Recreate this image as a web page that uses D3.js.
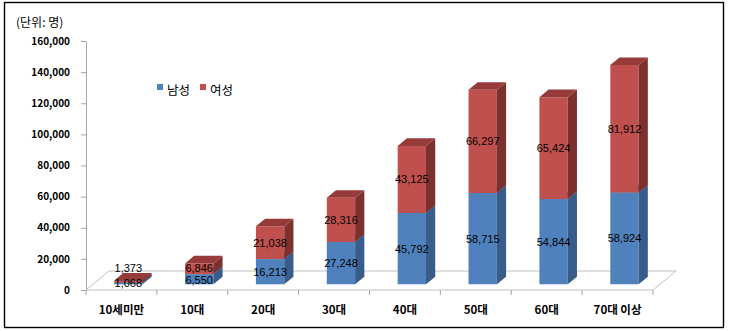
<!DOCTYPE html>
<html><head><meta charset="utf-8">
<script src="https://cdn.jsdelivr.net/npm/d3@7"></script>
<style>body{margin:0;background:#fff} svg{display:block}</style>
</head><body><svg id="chart" width="729" height="331"></svg>
<script>
// Population by age group, stacked by sex
const categories = ["10세미만", "10대", "20대", "30대", "40대", "50대", "60대", "70대 이상"];
const male = [1068, 6550, 16213, 27248, 45792, 58715, 54844, 58924];
const female = [1373, 6846, 21038, 28316, 43125, 66297, 65424, 81912];
const seriesNames = ["남성", "여성"];
const yTicks = [0, 20000, 40000, 60000, 80000, 100000, 120000, 140000, 160000];
const unitLabel = "(단위: 명)";

const colors = {
  male:   { front: "#4f81bd", side: "#385d8a", top: "#3f6aa0" },
  female: { front: "#c0504d", side: "#7d312f", top: "#963b39" }
};

const svg = d3.select("#chart");
const font = "'Noto Sans CJK KR', 'Noto Sans', sans-serif";
const numFont = "'Liberation Sans Narrow', 'Liberation Sans', sans-serif";

// outer frame
svg.append("rect").attr("x", 4.5).attr("y", 2.5).attr("width", 719).attr("height", 325)
  .attr("fill", "#fff").attr("stroke", "#000").attr("stroke-width", 1.4);

// 3D frame: front plane scales plus oblique depth offset
const left = 86, right = 653;
const depthX = 23, depthY = 19;
const y = d3.scaleLinear().domain([0, 160000]).range([290, 41]);
const x = d3.scaleBand().domain(categories).range([left, right]);
const proj = (px, v, d) => [px + d * depthX, y(v) - d * depthY];
const d0 = 0.3, d1 = 0.7;
const barW = x.bandwidth() / 2.5;

// floor
const floor = [proj(left, 0, 0), proj(right, 0, 0), proj(right, 0, 1), proj(left, 0, 1)];
svg.append("polygon").attr("points", floor.map(p => p.join(",")).join(" "))
  .attr("fill", "#fff").attr("stroke", "#c0c0c0").attr("stroke-width", 1);

// category boundary ticks
const bounds = categories.map(c => x(c)).concat([right]);
svg.append("g").selectAll("line").data(bounds).join("line")
  .attr("x1", d => d).attr("x2", d => d).attr("y1", y(0)).attr("y2", y(0) + 5)
  .attr("stroke", "#a6a6a6");

// value axis
const yAxis = svg.append("g").attr("transform", `translate(${left},0)`)
  .call(d3.axisLeft(y).tickValues(yTicks).tickSize(5).tickSizeOuter(0).tickPadding(11)
    .tickFormat(d3.format(",")));
yAxis.selectAll("path, line").attr("stroke", "#a6a6a6");
yAxis.selectAll("text").attr("font-family", font).attr("font-weight", 700)
  .attr("font-size", 10).attr("fill", "#000");

// category labels
const xAxis = svg.append("g").attr("transform", `translate(0,${y(0)})`)
  .call(d3.axisBottom(x).tickSize(0).tickPadding(16));
xAxis.select(".domain").remove();
xAxis.selectAll("text").attr("font-family", font).attr("font-weight", 700)
  .attr("font-size", 11.5).attr("fill", "#000");

// bars
const stacks = categories.map((c, i) => ({
  c,
  segs: [
    { key: "male", v0: 0, v1: male[i], val: male[i] },
    { key: "female", v0: male[i], v1: male[i] + female[i], val: female[i] }
  ]
}));

const poly = pts => pts.map(p => p.join(",")).join(" ");
const barsG = svg.append("g");
stacks.forEach(s => {
  const xl = x(s.c) + (x.bandwidth() - barW) / 2, xr = xl + barW;
  s.segs.forEach(g => {
    const col = colors[g.key];
    const gg = barsG.append("g");
    gg.append("polygon").attr("fill", col.front)
      .attr("points", poly([proj(xl, g.v0, d0), proj(xr, g.v0, d0), proj(xr, g.v1, d0), proj(xl, g.v1, d0)]));
    gg.append("polygon").attr("fill", col.side)
      .attr("points", poly([proj(xr, g.v0, d0), proj(xr, g.v0, d1), proj(xr, g.v1, d1), proj(xr, g.v1, d0)]));
    gg.append("polygon").attr("fill", col.top)
      .attr("points", poly([proj(xl, g.v1, d0), proj(xr, g.v1, d0), proj(xr, g.v1, d1), proj(xl, g.v1, d1)]));
  });
  s.cx = (xl + xr) / 2 + d0 * depthX;
});

// value labels centred on each front face; crowded pairs are spread apart
const fmt = d3.format(",");
const labelsG = svg.append("g").attr("font-family", numFont).attr("font-size", 11)
  .attr("fill", "#000").attr("text-anchor", "middle").attr("dominant-baseline", "central");
stacks.forEach(s => {
  const ys = s.segs.map(g => (y(g.v0) + y(g.v1)) / 2 - d0 * depthY);
  const gap = ys[0] - ys[1];
  if (gap < 8) ys[1] = ys[0] - 15;
  else if (gap < 12) { const m = (ys[0] + ys[1]) / 2; ys[0] = m + 6; ys[1] = m - 6; }
  s.segs.forEach((g, k) => {
    labelsG.append("text").attr("x", s.cx).attr("y", ys[k]).text(fmt(g.val));
  });
});

// legend
const legend = svg.append("g").attr("font-family", font).attr("font-size", 12.5).attr("fill", "#000");
const legendX = [157, 200];
seriesNames.forEach((n, i) => {
  legend.append("rect").attr("x", legendX[i]).attr("y", 84).attr("width", 6).attr("height", 6)
    .attr("fill", i === 0 ? colors.male.front : colors.female.front);
  legend.append("text").attr("x", legendX[i] + 10).attr("y", 95).text(n);
});

// unit label
svg.append("text").attr("x", 16).attr("y", 27).attr("font-family", font).attr("font-size", 12)
  .attr("fill", "#000").text(unitLabel);
</script>
</body></html>
